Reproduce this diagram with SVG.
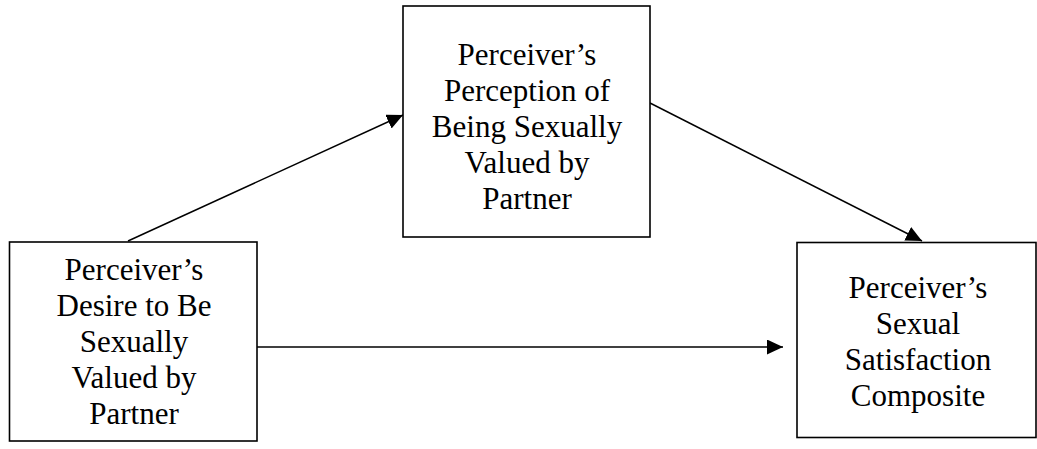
<svg xmlns="http://www.w3.org/2000/svg" width="1037" height="449" viewBox="0 0 1037 449">
<style>
.box{fill:#fff;stroke:#000;stroke-width:1.6}
.lbl{font-family:"Liberation Serif","Times New Roman",serif;font-size:31px;fill:#000;text-anchor:middle}
.conn{stroke:#000;stroke-width:1.5;fill:none}
</style>
<defs>
<marker id="ah" markerUnits="userSpaceOnUse" markerWidth="18" markerHeight="16" refX="16" refY="7.5" orient="auto">
<path d="M0,0 L16,7.5 L0,15 Z" fill="#000"/>
</marker>
</defs>
<rect width="1037" height="449" fill="#fff"/>
<g id="connectors">
<line class="conn" x1="128" y1="241" x2="403" y2="115" marker-end="url(#ah)"/>
<line class="conn" x1="650" y1="103" x2="922" y2="241" marker-end="url(#ah)"/>
<line class="conn" x1="257" y1="347" x2="783" y2="347" marker-end="url(#ah)"/>
</g>
<g id="node-desire">
<rect class="box" x="9.5" y="242" width="247.5" height="199"/>
<text class="lbl" x="134" y="280">Perceiver’s</text>
<text class="lbl" x="134" y="316">Desire to Be</text>
<text class="lbl" x="134" y="352">Sexually</text>
<text class="lbl" x="134" y="388">Valued by</text>
<text class="lbl" x="134" y="424">Partner</text>
</g>
<g id="node-perception">
<rect class="box" x="403" y="6" width="247" height="231"/>
<text class="lbl" x="527" y="65">Perceiver’s</text>
<text class="lbl" x="527" y="101">Perception of</text>
<text class="lbl" x="527" y="137">Being Sexually</text>
<text class="lbl" x="527" y="173">Valued by</text>
<text class="lbl" x="527" y="209">Partner</text>
</g>
<g id="node-satisfaction">
<rect class="box" x="797" y="242.5" width="239" height="195"/>
<text class="lbl" x="918" y="298">Perceiver’s</text>
<text class="lbl" x="918" y="334">Sexual</text>
<text class="lbl" x="918" y="370">Satisfaction</text>
<text class="lbl" x="918" y="406">Composite</text>
</g>
</svg>
